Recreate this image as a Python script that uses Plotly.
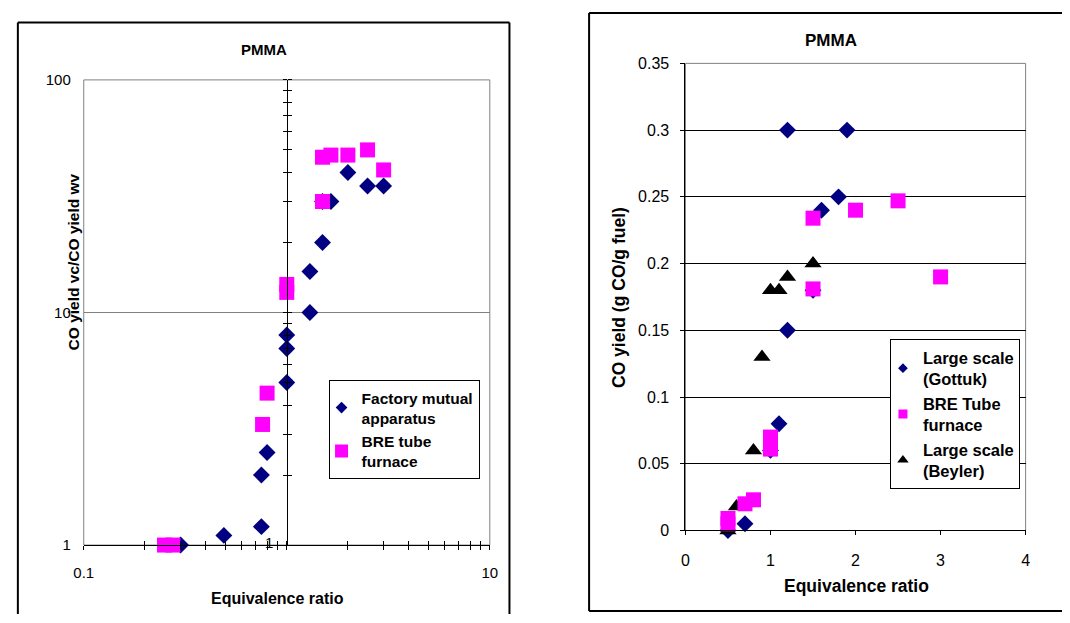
import math
import plotly.graph_objects as go

W, H = 1070, 623
FONT = "Liberation Sans, Arial, sans-serif"

# ---------------- Left panel (log-log) data ----------------
fm_phi = [0.30, 0.49, 0.75, 0.75, 0.80, 1.0, 1.0, 1.0, 1.3, 1.3, 1.5, 1.5, 1.65, 2.0, 2.5, 3.0]
fm_ratio = [1.0, 1.1, 1.2, 2.0, 2.5, 5.0, 7.0, 8.0, 10.0, 15.0, 20.0, 30.0, 30.0, 40.0, 35.0, 35.0]
bre_phi = [0.25, 0.275, 0.76, 0.80, 1.0, 1.0, 1.5, 1.5, 1.65, 2.0, 2.5, 3.0]
bre_ratio = [1.0, 1.0, 3.3, 4.5, 12.2, 13.2, 30.0, 46.5, 47.5, 47.5, 50.0, 41.0]

left_x_ticks = [0.1, 0.2, 0.3, 0.4, 0.5, 0.6, 0.7, 0.8, 0.9, 1, 2, 3, 4, 5, 6, 7, 8, 9, 10]
left_x_labels = ["0.1", "", "", "", "", "", "", "", "", "", "", "", "", "", "", "", "", "", "10"]
left_y_ticks = [1, 2, 3, 4, 5, 6, 7, 8, 9, 10, 20, 30, 40, 50, 60, 70, 80, 90, 100]
left_y_major = [1, 10, 100]
left_y_labels = ["1", "10", "100"]

# ---------------- Right panel (linear) data ----------------
gottuk_phi = [0.5, 0.7, 1.0, 1.1, 1.2, 1.5, 1.6, 1.8, 1.2, 1.9]
gottuk_co = [0.0, 0.005, 0.06, 0.08, 0.15, 0.18, 0.24, 0.25, 0.30, 0.30]
bre2_phi = [0.5, 0.5, 0.7, 0.8, 1.0, 1.0, 1.5, 1.5, 2.0, 2.5, 3.0]
bre2_co = [0.005, 0.009, 0.02, 0.023, 0.061, 0.07, 0.181, 0.234, 0.24, 0.247, 0.19]
beyler_phi = [0.5, 0.6, 0.8, 0.9, 1.0, 1.1, 1.2, 1.5]
beyler_co = [0.0, 0.018, 0.06, 0.13, 0.18, 0.18, 0.19, 0.20]

right_x_ticks = [0, 1, 2, 3, 4]
right_y_ticks = [0, 0.05, 0.1, 0.15, 0.2, 0.25, 0.3, 0.35]
right_y_labels = ["0", "0.05", "0.1", "0.15", "0.2", "0.25", "0.3", "0.35"]


def fx(p):
    return p / W


def fy(p):
    return 1 - p / H


L_dx = [fx(75), fx(488)]
L_dy = [fy(552), fy(73)]
R_dx = [fx(687), fx(1033)]
R_dy = [fy(537), fy(56)]

NAVY = "#000080"
MAG = "#FF00FF"

fig = go.Figure()

# ---- left panel data traces ----
fig.add_trace(go.Scatter(x=fm_phi, y=fm_ratio, mode="markers", name="Factory mutual<br>apparatus",
                         marker=dict(symbol="diamond", size=13, color=NAVY), cliponaxis=False,
                         xaxis="x", yaxis="y", showlegend=False))
fig.add_trace(go.Scatter(x=bre_phi, y=bre_ratio, mode="markers", name="BRE tube<br>furnace",
                         marker=dict(symbol="square", size=15, color=MAG), cliponaxis=False,
                         xaxis="x", yaxis="y", showlegend=False))
# legend keys (no data, only smaller legend symbols)
fig.add_trace(go.Scatter(x=[None], y=[None], mode="markers", name="Factory mutual<br>apparatus",
                         marker=dict(symbol="diamond", size=9, color=NAVY),
                         xaxis="x", yaxis="y", legend="legend"))
fig.add_trace(go.Scatter(x=[None], y=[None], mode="markers", name="BRE tube<br>furnace",
                         marker=dict(symbol="square", size=13, color=MAG),
                         xaxis="x", yaxis="y", legend="legend"))

# empty traces so the overlay axes (cross ticks) exist
fig.add_trace(go.Scatter(x=[], y=[], xaxis="x3", yaxis="y", showlegend=False, hoverinfo="skip"))
fig.add_trace(go.Scatter(x=[], y=[], xaxis="x", yaxis="y3", showlegend=False, hoverinfo="skip"))
fig.add_trace(go.Scatter(x=[], y=[], xaxis="x", yaxis="y4", showlegend=False, hoverinfo="skip"))

# ---- right panel data traces ----
fig.add_trace(go.Scatter(x=gottuk_phi, y=gottuk_co, mode="markers", name="Large scale<br>(Gottuk)",
                         marker=dict(symbol="diamond", size=13, color=NAVY), cliponaxis=False,
                         xaxis="x2", yaxis="y2", showlegend=False))
fig.add_trace(go.Scatter(x=beyler_phi, y=beyler_co, mode="markers", name="Large scale<br>(Beyler)",
                         marker=dict(symbol="triangle-up", size=15, color="black"), cliponaxis=False,
                         xaxis="x2", yaxis="y2", showlegend=False))
fig.add_trace(go.Scatter(x=bre2_phi, y=bre2_co, mode="markers", name="BRE Tube<br>furnace",
                         marker=dict(symbol="square", size=15, color=MAG), cliponaxis=False,
                         xaxis="x2", yaxis="y2", showlegend=False))
# legend keys
fig.add_trace(go.Scatter(x=[None], y=[None], mode="markers", name="Large scale<br>(Gottuk)",
                         marker=dict(symbol="diamond", size=7.5, color=NAVY),
                         xaxis="x2", yaxis="y2", legend="legend2"))
fig.add_trace(go.Scatter(x=[None], y=[None], mode="markers", name="BRE Tube<br>furnace",
                         marker=dict(symbol="square", size=9, color=MAG),
                         xaxis="x2", yaxis="y2", legend="legend2"))
fig.add_trace(go.Scatter(x=[None], y=[None], mode="markers", name="Large scale<br>(Beyler)",
                         marker=dict(symbol="triangle-up", size=10, color="black"),
                         xaxis="x2", yaxis="y2", legend="legend2"))

x1_pos = L_dx[0] + (L_dx[1] - L_dx[0]) * (math.log10(1) - (-1)) / 2.0

tickfont_L = dict(family=FONT, size=15, color="black")
tickfont_R = dict(family=FONT, size=16, color="black")

fig.update_layout(
    width=W, height=H,
    margin=dict(l=0, r=0, t=0, b=0),
    paper_bgcolor="white", plot_bgcolor="white",
    font=dict(family=FONT, color="black"),
    xaxis=dict(type="log", domain=L_dx, anchor="y", range=[-1, 1],
               tickvals=left_x_ticks, ticktext=left_x_labels,
               ticks="outside", ticklen=4, tickcolor="black", tickwidth=1,
               showline=True, linecolor="black", linewidth=1,
               showgrid=False, zeroline=False, tickfont=tickfont_L, ticklabelstandoff=10),
    xaxis3=dict(type="log", overlaying="x", anchor="y", range=[-1, 1],
                tickvals=left_x_ticks, ticks="inside", ticklen=4, tickcolor="black",
                showticklabels=False, showline=False, showgrid=False, zeroline=False),
    yaxis=dict(type="log", domain=L_dy, anchor="x", range=[0, 2],
               tickvals=left_y_major, ticktext=left_y_labels, ticks="",
               showline=False, showgrid=True, gridcolor="#808080", gridwidth=1,
               zeroline=False, tickfont=tickfont_L, ticklabelstandoff=12),
    yaxis3=dict(type="log", overlaying="y", anchor="free", position=x1_pos, side="left",
                range=[0, 2], tickvals=left_y_ticks, ticks="outside", ticklen=4,
                tickcolor="black", showticklabels=False, showline=True, linecolor="black",
                linewidth=1, showgrid=False, zeroline=False),
    yaxis4=dict(type="log", overlaying="y", anchor="free", position=x1_pos, side="right",
                range=[0, 2], tickvals=left_y_ticks, ticks="outside", ticklen=4,
                tickcolor="black", showticklabels=False, showline=False,
                showgrid=False, zeroline=False),
    xaxis2=dict(domain=R_dx, anchor="y2", range=[0, 4], tickvals=right_x_ticks,
                ticks="outside", ticklen=4, tickcolor="black",
                showline=True, linecolor="black", linewidth=1,
                showgrid=False, zeroline=False, tickfont=tickfont_R, ticklabelstandoff=11),
    yaxis2=dict(domain=R_dy, anchor="x2", range=[0, 0.35], tickvals=right_y_ticks,
                ticktext=right_y_labels, ticks="outside", ticklen=4, tickcolor="black",
                showline=True, linecolor="black", linewidth=1,
                showgrid=True, gridcolor="black", gridwidth=1, zeroline=False,
                tickfont=tickfont_R, ticklabelstandoff=8),
    legend=dict(x=fx(324), y=fy(382), xanchor="left", yanchor="top",
                bgcolor="white", bordercolor="black", borderwidth=1,
                font=dict(family=FONT, size=15.5, color="black", weight="bold"),
                itemsizing="trace", tracegroupgap=6, indentation=-8),
    legend2=dict(x=fx(895), y=fy(340), xanchor="left", yanchor="top",
                 bgcolor="white", bordercolor="black", borderwidth=1,
                 font=dict(family=FONT, size=16.5, color="black", weight="bold"),
                 itemsizing="trace", tracegroupgap=6, indentation=-8),
    showlegend=True,
)

# plot-area borders (grey) and outer chart boxes (black) -- all kept inside the page
BOX = dict(color="black", width=2)
shapes = [
    dict(type="rect", xref="x domain", yref="y domain", x0=0, x1=1, y0=0, y1=1,
         line=dict(color="#808080", width=1), layer="below"),
    dict(type="rect", xref="x2 domain", yref="y2 domain", x0=0, x1=1, y0=0, y1=1,
         line=dict(color="#808080", width=1), layer="below"),
    # left box: top, left, right sides (bottom runs off the page)
    dict(type="line", xref="paper", yref="paper", x0=fx(8), x1=fx(508), y0=fy(14), y1=fy(14), line=BOX),
    dict(type="line", xref="paper", yref="paper", x0=fx(8), x1=fx(8), y0=0, y1=fy(14), line=BOX),
    dict(type="line", xref="paper", yref="paper", x0=fx(508), x1=fx(508), y0=0, y1=fy(14), line=BOX),
    # right box: top, left, bottom sides (right side runs off the page)
    dict(type="line", xref="paper", yref="paper", x0=fx(589), x1=1, y0=fy(4), y1=fy(4), line=BOX),
    dict(type="line", xref="paper", yref="paper", x0=fx(589), x1=fx(589), y0=fy(620), y1=fy(4), line=BOX),
    dict(type="line", xref="paper", yref="paper", x0=fx(589), x1=1, y0=fy(620), y1=fy(620), line=BOX),
]
fig.update_layout(shapes=shapes)

bold = lambda s: dict(family=FONT, size=s, color="black", weight="bold")
annotations = [
    dict(text="PMMA", x=fx(258), y=fy(42), xref="paper", yref="paper", showarrow=False,
         xanchor="center", yanchor="middle", font=bold(15)),
    dict(text="PMMA", x=fx(835), y=fy(32), xref="paper", yref="paper", showarrow=False,
         xanchor="center", yanchor="middle", font=bold(17)),
    dict(text="Equivalence ratio", x=fx(272), y=fy(607), xref="paper", yref="paper",
         showarrow=False, xanchor="center", yanchor="middle", font=bold(16)),
    dict(text="Equivalence ratio", x=fx(861), y=fy(594), xref="paper", yref="paper",
         showarrow=False, xanchor="center", yanchor="middle", font=bold(17.5)),
    dict(text="CO yield vc/CO yield wv", x=fx(65), y=fy(260), xref="paper", yref="paper",
         showarrow=False, xanchor="center", yanchor="middle", textangle=-90, font=bold(15.5)),
    dict(text="CO yield (g CO/g fuel)", x=fx(620), y=fy(297), xref="paper", yref="paper",
         showarrow=False, xanchor="center", yanchor="middle", textangle=-90, font=bold(17.5)),
    dict(text="1", x=fx(263), y=fy(549), xref="paper", yref="paper", showarrow=False,
         xanchor="center", yanchor="middle", font=dict(family=FONT, size=15, color="black")),
]
fig.update_layout(annotations=annotations)

fig.write_html("out.html")
